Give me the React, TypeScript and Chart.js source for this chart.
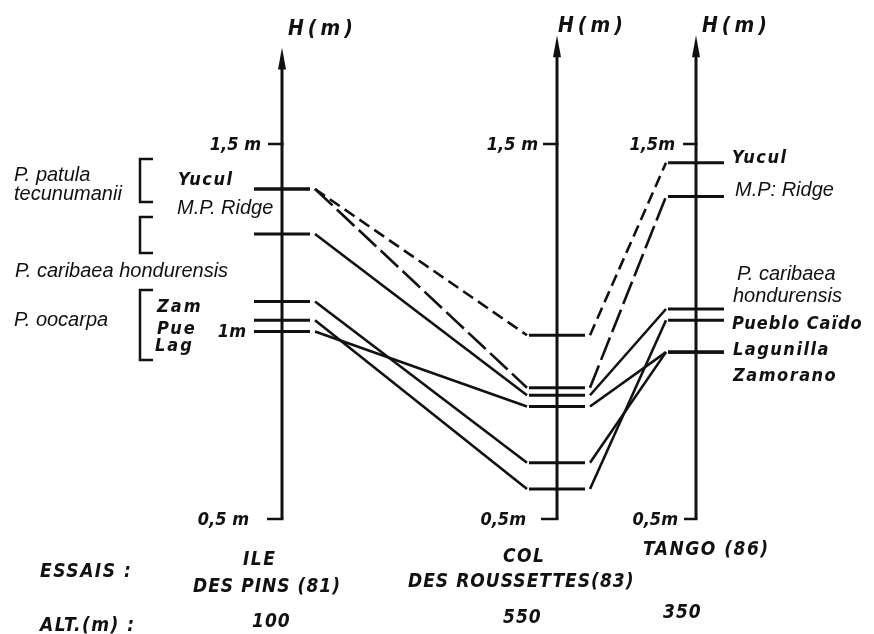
import React, { useEffect, useRef } from "react";
import { Chart, registerables } from "chart.js";

Chart.register(...registerables);

// ---------------- data ----------------
const trialLine1 = ["ILE", "COL", "TANGO (86)"];
const trialLine2 = ["DES PINS (81)", "DES ROUSSETTES(83)", ""];
const altitudes = ["100", "550", "350"];

// mean height (m) of each provenance at the three trials
const yucul = [1.38, 0.99, 1.45];
const mpRidge = [1.38, 0.85, 1.36];
const caribaea = [1.26, 0.83, 1.06];
const zamorano = [1.08, 0.65, 0.945];
const puebloCaido = [1.03, 0.58, 1.03];
const lagunilla = [1.0, 0.8, 0.945];

const leftTickValues = [0.5, 1, 1.5];
const leftTickLabels = ["0,5 m", "1m", "1,5 m"];
const midTickValues = [0.5, 1.5];
const midTickLabels = ["0,5m", "1,5 m"];
const rightTickValues = [0.5, 1.5];
const rightTickLabels = ["0,5m", "1,5m"];

// ---------------- layout / style ----------------
const W = 874;
const H = 634;
const INK = "#111111";
const SITE_X = [282, 557, 696]; // x-scale units (0..874)
const AXIS_TOP = [1.757, 1.79, 1.79]; // arrow tip value
const BAR_HALF = 28;
const GAP = 5;

const SPECIES_FONT = 'italic 20px "Liberation Sans", Arial, sans-serif';
const STENCIL_FONT = 'italic bold 18px "DejaVu Sans Condensed", "DejaVu Sans", sans-serif';
const BOTTOM_FONT = 'italic bold 19px "DejaVu Sans Condensed", "DejaVu Sans", sans-serif';
const TICK_FONT = 'italic bold 18px "DejaVu Sans Condensed", "DejaVu Sans", sans-serif';
const HM_FONT = 'italic bold 21px "DejaVu Sans Condensed", "DejaVu Sans", sans-serif';

const series = [
  { name: "Yucul", values: yucul, dash: [12, 6] },
  { name: "M.P. Ridge", values: mpRidge, dash: [24, 6] },
  { name: "P. caribaea hondurensis", values: caribaea, dash: [] as number[] },
  { name: "Zamorano", values: zamorano, dash: [] as number[] },
  { name: "Pueblo Caïdo", values: puebloCaido, dash: [] as number[] },
  { name: "Lagunilla", values: lagunilla, dash: [] as number[] },
];

type Txt = { t: string; x: number; y: number; f: string; ls?: number; align?: CanvasTextAlign };

const annotations: Txt[] = [
  { t: "P. patula", x: 14, y: 181, f: SPECIES_FONT },
  { t: "tecunumanii", x: 14, y: 200, f: SPECIES_FONT },
  { t: "Yucul", x: 178, y: 185, f: STENCIL_FONT, ls: 1.5 },
  { t: "M.P. Ridge", x: 177, y: 214, f: SPECIES_FONT },
  { t: "P. caribaea hondurensis", x: 15, y: 277, f: SPECIES_FONT },
  { t: "P. oocarpa", x: 14, y: 326, f: SPECIES_FONT },
  { t: "Zam", x: 157, y: 312, f: STENCIL_FONT, ls: 2 },
  { t: "Pue", x: 157, y: 334, f: STENCIL_FONT, ls: 2 },
  { t: "Lag", x: 155, y: 351, f: STENCIL_FONT, ls: 2 },
  { t: "Yucul", x: 732, y: 163, f: STENCIL_FONT, ls: 1.5 },
  { t: "M.P: Ridge", x: 735, y: 196, f: SPECIES_FONT },
  { t: "P. caribaea", x: 737, y: 280, f: SPECIES_FONT },
  { t: "hondurensis", x: 733, y: 302, f: SPECIES_FONT },
  { t: "Pueblo Caïdo", x: 732, y: 329, f: STENCIL_FONT, ls: 1 },
  { t: "Lagunilla", x: 733, y: 355, f: STENCIL_FONT, ls: 1.5 },
  { t: "Zamorano", x: 733, y: 381, f: STENCIL_FONT, ls: 1.5 },
  { t: "ESSAIS :", x: 40, y: 577, f: BOTTOM_FONT, ls: 1.5 },
  { t: "ALT.(m) :", x: 40, y: 631, f: BOTTOM_FONT, ls: 1.5 },
];

const trialLabelPos = [
  { l1: [243, 565], l2: [193, 592], alt: [252, 627] },
  { l1: [503, 562], l2: [408, 587], alt: [503, 623] },
  { l1: [643, 555], l2: [0, 0], alt: [663, 618] },
];

const hmPos = [
  [288, 35],
  [558, 32],
  [702, 32],
];

const brackets = [
  [159, 202],
  [217, 253],
  [290, 360],
];

function buildPoints(vals: number[]) {
  const pts: { x: number; y: number | null }[] = [];
  vals.forEach((v, i) => {
    pts.push({ x: SITE_X[i] - BAR_HALF, y: v });
    pts.push({ x: SITE_X[i] + BAR_HALF, y: v });
    if (i < vals.length - 1) {
      pts.push({ x: SITE_X[i] + BAR_HALF + 2, y: null });
      pts.push({ x: SITE_X[i] + BAR_HALF + GAP, y: v });
      pts.push({ x: SITE_X[i + 1] - BAR_HALF - 2, y: vals[i + 1] });
      pts.push({ x: SITE_X[i + 1] - BAR_HALF - 1, y: null });
    }
  });
  return pts;
}

function drawText(ctx: CanvasRenderingContext2D, t: Txt) {
  ctx.font = t.f;
  (ctx as any).letterSpacing = (t.ls || 0) + "px";
  ctx.textAlign = t.align || "left";
  ctx.textBaseline = "alphabetic";
  ctx.fillText(t.t, t.x, t.y);
}

const decorPlugin = {
  id: "decor",
  afterDraw(chart: any) {
    const ctx: CanvasRenderingContext2D = chart.ctx;
    const xs = chart.scales.x;
    const ys = chart.scales.y;
    ctx.save();
    ctx.strokeStyle = INK;
    ctx.fillStyle = INK;
    ctx.lineCap = "butt";

    const tickSets = [
      { v: leftTickValues, l: leftTickLabels, len: [15, 10, 14], gap: [18, 26, 7] },
      { v: midTickValues, l: midTickLabels, len: [16, 14], gap: [15, 5] },
      { v: rightTickValues, l: rightTickLabels, len: [12, 13], gap: [6, 8] },
    ];

    SITE_X.forEach((sx, i) => {
      const px = xs.getPixelForValue(sx);
      const top = ys.getPixelForValue(AXIS_TOP[i]);
      const bottom = ys.getPixelForValue(0.5);
      // axis line
      ctx.lineWidth = 3;
      ctx.setLineDash([]);
      ctx.beginPath();
      ctx.moveTo(px, top + 12);
      ctx.lineTo(px, bottom);
      ctx.stroke();
      // arrow head
      ctx.beginPath();
      ctx.moveTo(px, top);
      ctx.lineTo(px + 4, top + 22);
      ctx.lineTo(px - 4, top + 22);
      ctx.closePath();
      ctx.fill();
      // ticks
      const ts = tickSets[i];
      ts.v.forEach((tv, k) => {
        const py = ys.getPixelForValue(tv);
        ctx.lineWidth = 2.5;
        ctx.beginPath();
        ctx.moveTo(px + 1.5, py);
        ctx.lineTo(px - ts.len[k], py);
        ctx.stroke();
        drawText(ctx, {
          t: ts.l[k],
          x: px - ts.len[k] - ts.gap[k],
          y: py + 6,
          f: TICK_FONT,
          align: "right",
        });
      });
      // H(m)
      drawText(ctx, { t: "H(m)", x: hmPos[i][0], y: hmPos[i][1], f: HM_FONT, ls: 4 });
      // trial labels
      const tp = trialLabelPos[i];
      drawText(ctx, { t: trialLine1[i], x: tp.l1[0], y: tp.l1[1], f: BOTTOM_FONT, ls: 1.5 });
      if (trialLine2[i]) drawText(ctx, { t: trialLine2[i], x: tp.l2[0], y: tp.l2[1], f: BOTTOM_FONT, ls: 1 });
      drawText(ctx, { t: altitudes[i], x: tp.alt[0], y: tp.alt[1], f: BOTTOM_FONT, ls: 1 });
    });

    // brackets
    ctx.lineWidth = 2.5;
    brackets.forEach(([a, b]) => {
      ctx.beginPath();
      ctx.moveTo(153, a);
      ctx.lineTo(140, a);
      ctx.lineTo(140, b);
      ctx.lineTo(153, b);
      ctx.stroke();
    });

    annotations.forEach((t) => drawText(ctx, t));
    ctx.restore();
  },
};

export default function App() {
  const ref = useRef<HTMLCanvasElement | null>(null);
  useEffect(() => {
    if (!ref.current) return;
    const chart = new Chart(ref.current, {
      type: "line",
      data: {
        datasets: series.map((s) => ({
          label: s.name,
          data: buildPoints(s.values) as any,
          borderColor: INK,
          borderWidth: 3,
          pointRadius: 0,
          spanGaps: false,
          clip: false as any,
          tension: 0,
          segment: {
            borderDash: (c: any) => (c.p0DataIndex % 6 === 3 ? s.dash : []),
            borderWidth: (c: any) => (c.p0DataIndex % 6 === 3 ? 2.6 : 3.2),
          },
        })),
      },
      options: {
        animation: false,
        responsive: false,
        layout: { padding: 0, autoPadding: false },
        plugins: { legend: { display: false }, tooltip: { enabled: false } },
        scales: {
          x: { type: "linear", min: 0, max: W, display: false },
          y: { type: "linear", min: 0.1933, max: 1.884, display: false },
        },
      },
      plugins: [decorPlugin],
    });
    return () => chart.destroy();
  }, []);
  return (
    <div style={{ position: "fixed", left: 0, top: 0, width: W, height: H, background: "#fff" }}>
      <canvas ref={ref} width={W} height={H} style={{ display: "block" }} />
    </div>
  );
}
